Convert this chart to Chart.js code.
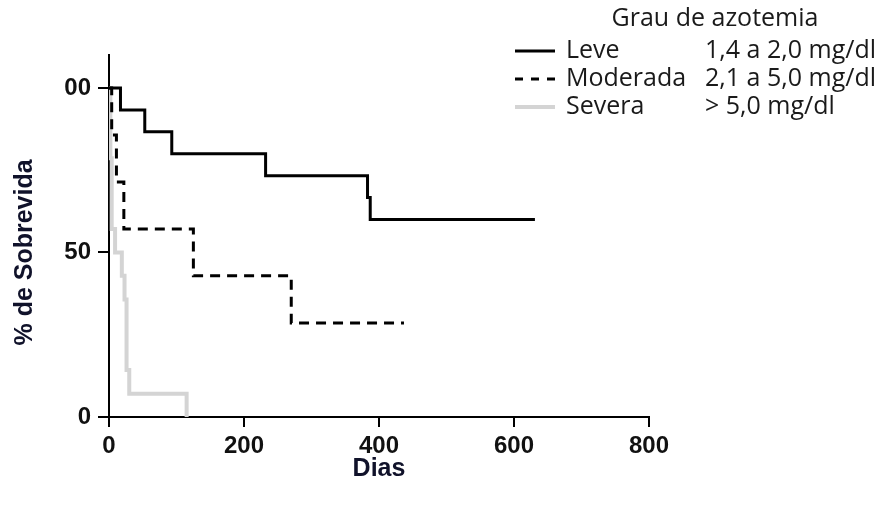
<!DOCTYPE html>
<html lang="pt">
<head>
<meta charset="utf-8">
<title>Sobrevida por grau de azotemia</title>
<script src="https://cdn.jsdelivr.net/npm/chart.js@4.4.1/dist/chart.umd.min.js"></script>
<style>
    html, body { margin: 0; padding: 0; background: #fff; }
    #wrap { width: 895px; height: 507px; }
</style>
</head>
<body>
<div id="wrap"><canvas id="survivalChart" width="895" height="507"></canvas></div>
<script>
// ===================================
// DATA
// ===================================

const leveDias = [0, 17, 53, 93, 232, 383, 387, 631];
const leveSobrevida = [100, 93.3, 86.7, 80, 73.3, 66.7, 60, 60];

const moderadaDias = [0, 4, 11, 22, 125, 270, 437];
const moderadaSobrevida = [100, 85.7, 71.4, 57.1, 42.9, 28.6, 28.6];

const severaDias = [0, 2, 4, 9, 19, 23, 26, 30, 115];
const severaSobrevida = [100, 78.6, 57.1, 50, 42.9, 35.7, 14.3, 7.1, 0];

const grupos = ['Leve', 'Moderada', 'Severa'];
const faixas = ['1,4 a 2,0 mg/dl', '2,1 a 5,0 mg/dl', '> 5,0 mg/dl'];
const legendTitle = 'Grau de azotemia';

const xTicks = [0, 200, 400, 600, 800];
const yTicks = [0, 50, 100];
const yTickLabels = ['0', '50', '00'];   // the "1" of 100 is cut off in the figure

const axisFont = '"Liberation Sans", Arial, sans-serif';
const legendFont = '"Open Sans", "Noto Sans", sans-serif';

// Build {x, y} points for a step curve
function toPoints(dias, valores) {
    return dias.map((d, i) => ({ x: d, y: valores[i] }));
}

// ===================================
// PLUGINS
// ===================================

// Legend block top-right: title, sample line, group name, range
const azotemiaLegend = {
    id: 'azotemiaLegend',
    afterDraw(chart) {
        const ctx = chart.ctx;
        ctx.save();
        ctx.font = '25px ' + legendFont;
        ctx.fillStyle = '#1a1a1a';
        ctx.textBaseline = 'middle';
        ctx.textAlign = 'center';
        ctx.fillText(legendTitle, 715, 19);

        ctx.textAlign = 'left';
        chart.data.datasets.forEach((ds, i) => {
            const y = 51 + i * 28;
            ctx.beginPath();
            ctx.strokeStyle = ds.borderColor;
            ctx.lineWidth = ds.borderWidth;
            ctx.setLineDash(i === 1 ? [8, 8] : []);
            ctx.moveTo(515, y);
            ctx.lineTo(555, y);
            ctx.stroke();
            ctx.setLineDash([]);
            ctx.fillText(ds.label, 566, y);
            ctx.fillText(faixas[i], 705, y);
        });
        ctx.restore();
    }
};

// Y title centred on the 0-100 part of the axis, like the original
const yAxisTitle = {
    id: 'yAxisTitle',
    afterDraw(chart) {
        const ctx = chart.ctx;
        const y = chart.scales.y;
        const mid = (y.getPixelForValue(0) + y.getPixelForValue(100)) / 2;
        ctx.save();
        ctx.translate(25, mid);
        ctx.rotate(-Math.PI / 2);
        ctx.font = 'bold 25px ' + axisFont;
        ctx.fillStyle = '#10122a';
        ctx.textAlign = 'center';
        ctx.textBaseline = 'middle';
        ctx.fillText('% de Sobrevida', 0, 0);
        ctx.restore();
    }
};

// ===================================
// CHART
// ===================================

const ctx = document.getElementById('survivalChart').getContext('2d');

const survivalChart = new Chart(ctx, {
    type: 'line',
    data: {
        datasets: [
            {
                label: grupos[0],
                data: toPoints(leveDias, leveSobrevida),
                borderColor: '#000000',
                borderWidth: 3,
                stepped: 'before',
                pointRadius: 0,
                fill: false
            },
            {
                label: grupos[1],
                data: toPoints(moderadaDias, moderadaSobrevida),
                borderColor: '#000000',
                borderWidth: 3,
                borderDash: [10, 7],
                stepped: 'before',
                pointRadius: 0,
                fill: false
            },
            {
                label: grupos[2],
                data: toPoints(severaDias, severaSobrevida),
                borderColor: '#d4d4d4',
                borderWidth: 4,
                stepped: 'before',
                pointRadius: 0,
                fill: false
            }
        ]
    },
    options: {
        responsive: false,
        animation: false,
        devicePixelRatio: 1,
        layout: {
            padding: { top: 55, right: 246, left: 0, bottom: 0 }
        },
        plugins: {
            legend: { display: false },
            tooltip: { enabled: false }
        },
        scales: {
            x: {
                type: 'linear',
                min: 0,
                max: 800,
                afterBuildTicks: (axis) => {
                    axis.ticks = xTicks.map(v => ({ value: v }));
                },
                afterFit: (scale) => { scale.height = 90; },
                grid: {
                    drawOnChartArea: false,
                    drawTicks: true,
                    tickLength: 10,
                    color: '#000000',
                    lineWidth: 2
                },
                border: { color: '#000000', width: 2 },
                ticks: {
                    color: '#111111',
                    padding: 5,
                    maxRotation: 0,
                    font: { family: axisFont, size: 24, weight: 'bold' }
                },
                title: {
                    display: true,
                    text: 'Dias',
                    color: '#10122a',
                    padding: { top: 0, bottom: 23 },
                    font: { family: axisFont, size: 25, weight: 'bold' }
                }
            },
            y: {
                type: 'linear',
                min: 0,
                max: 110,
                afterBuildTicks: (axis) => {
                    axis.ticks = yTicks.map(v => ({ value: v }));
                },
                afterFit: (scale) => { scale.width = 109; },
                grid: {
                    drawOnChartArea: false,
                    drawTicks: true,
                    tickLength: 11,
                    color: '#000000',
                    lineWidth: 2
                },
                border: { color: '#000000', width: 2 },
                ticks: {
                    color: '#111111',
                    padding: 7,
                    font: { family: axisFont, size: 24, weight: 'bold' },
                    callback: (value) => yTickLabels[yTicks.indexOf(value)]
                }
            }
        }
    },
    plugins: [azotemiaLegend, yAxisTitle]
});
</script>
</body>
</html>
